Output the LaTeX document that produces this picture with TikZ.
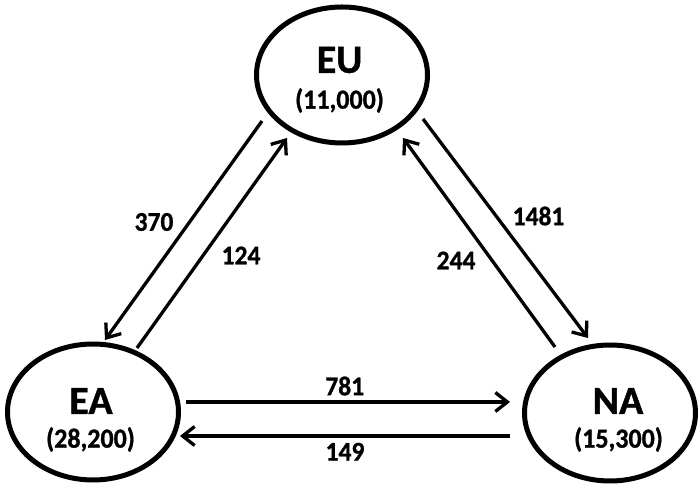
\documentclass[tikz,border=0pt]{standalone}
\usepackage{fontspec}
\usepackage{graphicx}
\setmainfont{Carlito}[BoldFeatures={FakeBold=1}]
\usetikzlibrary{shapes.geometric,arrows.meta,calc}
\newcommand{\tallt}[1]{\scalebox{1}[1.06]{#1}}
\begin{document}
\begin{tikzpicture}[x=1pt,y=1pt,
  region/.style={draw, ellipse, line width=5pt, minimum width=171pt, minimum height=136pt, inner sep=0pt},
  rname/.style={inner sep=0pt, font=\fontsize{40}{44}\selectfont\bfseries},
  rnum/.style={inner sep=0pt, font=\fontsize{26}{30}\selectfont\bfseries},
  flow/.style={line width=3.3pt, -{Straight Barb[length=12pt,width=19pt]}},
  flab/.style={inner sep=0pt, font=\fontsize{25.5}{28}\selectfont\bfseries}]
\useasboundingbox (0,0) rectangle (700,494);
% regions
\node[region] (EU) at (342,419) {};
\node[region] (EA) at (93,82) {};
\node[region] (NA) at (610,81) {};
\node[rname] (EUn) at ($(EU.center)+(-2.5,15)$) {EU};
\node[rnum]  (EUp) at ($(EU.center)+(-2.5,-25.5)$) {\tallt{(11,000)}};
\node[rname] (EAn) at ($(EA.center)+(-2,11)$) {EA};
\node[rnum]  (EAp) at ($(EA.center)+(-2.5,-27.5)$) {\tallt{(28,200)}};
\node[rname] (NAn) at ($(NA.center)+(8,12)$) {NA};
\node[rnum]  (NAp) at ($(NA.center)+(8.5,-26.5)$) {\tallt{(15,300)}};
% flows
\draw[flow] ($(EU.center)+(-80,-46)$) -- ($(EA.center)+(12,72)$)
  node[flab, midway, xshift=-29.5pt, yshift=8.5pt] (l370) {\tallt{370}};
\draw[flow] ($(EA.center)+(44,64)$) -- ($(EU.center)+(-55,-63)$)
  node[flab, midway, xshift=29pt, yshift=-12.5pt] (l124) {\tallt{124}};
\draw[flow] ($(EU.center)+(81,-44)$) -- ($(NA.center)+(-22,75)$)
  node[flab, midway, xshift=33pt, yshift=12.5pt] (l1481) {\tallt{1481}};
\draw[flow] ($(NA.center)+(-55,66)$) -- ($(EU.center)+(61,-63)$)
  node[flab, midway, xshift=-23pt, yshift=-18pt] (l244) {\tallt{244}};
\draw[flow] ($(EA.center)+(93,10)$) -- ($(NA.center)+(-100,11)$)
  node[flab, midway, xshift=-3.3pt, yshift=16pt] (l781) {\tallt{781}};
\draw[flow] ($(NA.center)+(-100,-23)$) -- ($(EA.center)+(87,-24)$)
  node[flab, midway, yshift=-15.7pt] (l149) {\tallt{149}};
\end{tikzpicture}
\end{document}
